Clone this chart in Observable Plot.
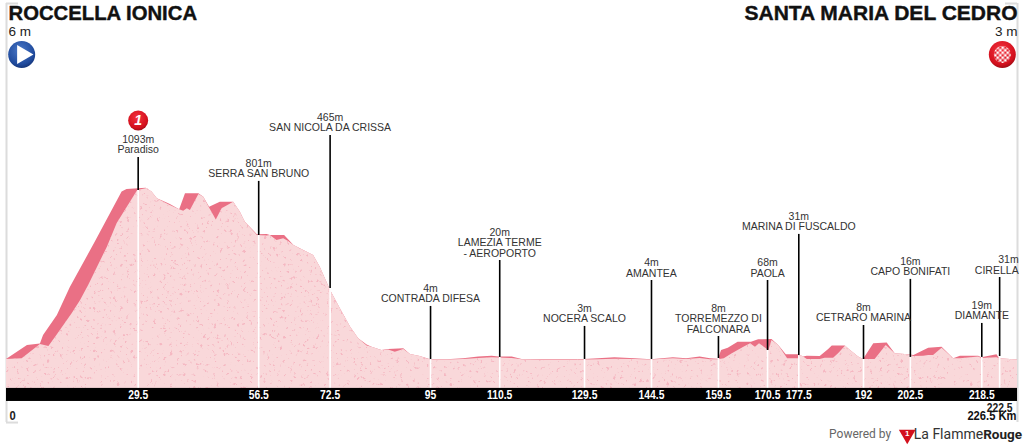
<!DOCTYPE html>
<html><head><meta charset="utf-8">
<script src="https://cdn.jsdelivr.net/npm/d3@7"></script>
<script src="https://cdn.jsdelivr.net/npm/@observablehq/plot@0.6"></script>
<style>html,body{margin:0;padding:0;background:#fff;overflow:hidden}svg{display:block}</style>
</head><body><div id="chart"></div>
<script>
// Upper outline of the profile (dark band on climbs)
const topKm = [0,4.7,7.6,8.3,11.4,14.3,19.9,25.9,27,31.3,32.6,33.8,35.6,36.7,38.8,40.1,43.1,44.2,45.5,47.9,50.9,52.4,53.5,56.2,58.4,59.1,62.3,63.2,64.4,66.6,68.8,70.3,72.6,74.8,77.1,78.9,80.8,81.9,84.1,85.6,89,90.5,92.7,95,98.7,102.4,105.8,108.8,110.3,113.3,115.5,120,129.5,132.6,136.3,140.8,144.5,149.4,152.4,155.4,157.7,159.5,160.2,161.7,163.9,166.9,168.5,171.5,173,174.7,177.5,178.6,179.4,182.3,184.2,185,187.9,189.1,190.9,192,194.3,197.3,199.1,202.1,203.3,206.6,209.6,212.2,213.7,217.8,218.5,221.9,222.5,226.5];
const topElev = [6,95,105,159,286,464,752,1070,1087,1095,1070,1028,1006,991,958,1059,1059,1038,974,1006,1006,942,879,799,801,794,794,767,731,699,667,593,445,328,211,138,98,84,63,70,74,38,25,4,4,10,21,27,21,21,6,6,5,10,17,10,4,17,10,21,10,8,63,78,116,116,131,133,95,36,36,21,27,25,70,91,91,63,21,6,106,110,42,36,31,78,84,10,27,27,17,36,10,3];
// Lower surface (pale body with grain)
const surfKm = [0,3.5,7.6,9.5,11,14.7,16.6,18.4,22.6,24.8,29.4,31.5,32.6,33.8,35.6,36.7,38.8,39.7,40.5,41.2,43.1,44.2,45.3,47,48.3,50.9,52.4,53.5,56.2,58.4,59.1,60.6,62.1,63.2,64.4,66.6,68.8,70.3,72.6,74.8,77.1,78.9,80.8,81.9,84.1,85.6,87.1,89,90.5,92.7,95,98.7,102.4,105.8,108.8,110.3,113.3,115.5,120,129.5,132.6,136.3,140.8,144.5,149.4,152.4,155.4,157.7,159.5,160.8,162.6,165.2,166.7,167.8,168.7,170.8,171.5,173,175,177.5,177.9,178.6,179.4,182.3,183.4,185.3,186.4,188,189.1,190.9,192,194.6,197.1,199.1,202.1,203.3,205.5,206.6,207.7,209.6,212.2,213.7,217.8,218.5,221.9,222.5,226.5];
const surfElev = [6,10,101,89,148,296,381,476,720,871,1080,1093,1070,1028,1000,985,958,949,964,953,1055,1038,978,893,964,1006,942,879,794,791,794,762,773,756,731,699,667,593,445,328,211,138,92,84,63,66,52,70,38,25,2,2,6,12,17,15,12,4,3,3,4,8,6,2,10,6,12,4,4,10,42,84,106,84,106,63,127,95,10,10,31,21,6,6,14,14,42,91,63,21,6,6,95,42,36,25,27,31,31,78,10,10,21,12,17,10,3];

// Places along the route
const stopKm = [29.5,56.5,72.5,95,110.5,129.5,144.5,159.5,170.5,177.5,192,202.5,218.5,222.5];
const stopElev = [1093,801,465,4,20,3,4,8,68,31,8,16,19,31];
const stopName = ["Paradiso","SERRA SAN BRUNO","SAN NICOLA DA CRISSA","CONTRADA DIFESA","LAMEZIA TERME\n- AEROPORTO","NOCERA SCALO","AMANTEA","TORREMEZZO DI\nFALCONARA","PAOLA","MARINA DI FUSCALDO","CETRARO MARINA","CAPO BONIFATI","DIAMANTE","CIRELLA"];
const startName = "ROCCELLA IONICA", finishName = "SANTA MARIA DEL CEDRO";
const startElev = "6 m", finishElev = "3 m";
const totalKm = 226.5;

// Layout in chart units (elevation in m, route in km)
const poleTop = [1290,1138,1430,343,635,216,508,152,508,801,222,515,235,527];
const poleBase = [1080,794,457,6,19,6,6,12,63,31,6,19,19,25];
const floorElev = -178, bandLow = -261, bandMid = -222;
const belowBand = -355, belowBand2 = -305, logoElev = -471, frameTop = 2269, frameBottom = -395;
const iconElev = 1945, kmStart = 3.4, kmEnd = 223.1, footKm = 2.7;

const stops = stopKm.map((km,i)=>({km,elev:stopElev[i],name:stopName[i],top:poleTop[i],base:poleBase[i]}));
const topLine = topKm.map((km,i)=>({km,elev:topElev[i]}));
const surface = surfKm.map((km,i)=>({km,elev:surfElev[i]}));
const bandFont = "'Liberation Sans',Arial,sans-serif";
const labelFont = "'Liberation Sans',Arial,sans-serif";
const creditFont = "Roboto,sans-serif";

const defs = () => {
  const s = d3.create("svg:defs");
  s.html(`
  <filter id="grain" x="0" y="0" width="1" height="1" color-interpolation-filters="sRGB">
    <feTurbulence type="fractalNoise" baseFrequency="0.3" numOctaves="3" seed="7" result="n"/>
    <feColorMatrix in="n" type="matrix" values="0 0 0 0 0.96  0 0 0 0 0.72  0 0 0 0 0.76  9 0 0 0 -5.8" result="sp"/>
    <feComposite in="sp" in2="SourceAlpha" operator="in" result="spk"/>
    <feMerge><feMergeNode in="SourceGraphic"/><feMergeNode in="spk"/></feMerge>
  </filter>
  <radialGradient id="blue" cx="45%" cy="35%" r="70%"><stop offset="0" stop-color="#4a78c8"/><stop offset="0.75" stop-color="#1f4a9c"/><stop offset="1" stop-color="#122f6e"/></radialGradient>
  <radialGradient id="red" cx="45%" cy="35%" r="70%"><stop offset="0" stop-color="#f5333f"/><stop offset="0.75" stop-color="#d3101d"/><stop offset="1" stop-color="#8e0a12"/></radialGradient>
  <pattern id="check" width="5" height="5" patternUnits="userSpaceOnUse" x="1" y="1"><rect width="2.5" height="2.5" fill="#fff"/><rect x="2.5" y="2.5" width="2.5" height="2.5" fill="#fff"/></pattern>`);
  return s.node();
};

const chart = Plot.plot({
  width: 1024, height: 448,
  marginLeft: 6, marginRight: 7, marginTop: 0, marginBottom: 0,
  x: {domain: [0, totalKm], axis: null},
  y: {domain: [-560, 2288], axis: null},
  style: {background: "#fff", fontFamily: labelFont},
  marks: [
    defs,
    // frame brackets
    Plot.ruleX([0,totalKm], {y1: frameTop, y2: frameBottom, stroke: "#dcdcdc", strokeWidth: 2}),
    Plot.ruleY([frameTop], {x1: 0, x2: footKm, stroke: "#dcdcdc", strokeWidth: 2}),
    Plot.ruleY([frameTop], {x1: totalKm-footKm, x2: totalKm, stroke: "#dcdcdc", strokeWidth: 2}),
    Plot.ruleY([frameBottom], {x1: 0, x2: footKm, stroke: "#dcdcdc", strokeWidth: 2}),
    // profile
    Plot.areaY(topLine, {x: "km", y1: floorElev, y2: "elev", fill: "#ea7085"}),
    Plot.areaY(surface, {x: "km", y1: floorElev, y2: "elev", fill: "#f9d8da"}),
    // white stems below the poles, black poles above
    Plot.ruleX(stops, {x: "km", y1: floorElev, y2: "base", stroke: "#fff", strokeWidth: 1.6}),
    Plot.ruleX(stops, {x: "km", y1: "base", y2: "top", stroke: "#000", strokeWidth: 1.6}),
    // km band
    Plot.rectY([0], {x1: 0, x2: totalKm, y1: bandLow, y2: floorElev, fill: "#000"}),
    Plot.text(stops.filter(d=>d.km!==222.5), {x: "km", y: bandMid, text: d=>String(d.km), fill: "#fff", fontFamily: bandFont, fontWeight: "bold", fontSize: 12}),
    Plot.text(stops.filter(d=>d.km===222.5), {x: "km", y: belowBand2, text: d=>String(d.km), fill: "#222", fontFamily: bandFont, fontWeight: "bold", fontSize: 12}),
    Plot.text(["0"], {x: 0, y: belowBand, dx: 3, textAnchor: "start", fill: "#222", fontFamily: bandFont, fontWeight: "bold", fontSize: 13}),
    Plot.text([`${totalKm} Km`], {x: totalKm, y: belowBand, dx: -1, textAnchor: "end", fill: "#111", fontFamily: bandFont, fontWeight: "bold", fontSize: 13}),
    // place labels
    Plot.text(stops.filter(d=>d.km!==222.5), {x: "km", y: "top", dy: -4, text: d=>`${d.elev}m\n${d.name}`, lineAnchor: "bottom", lineHeight: 0.98, fill: "#333", fontFamily: labelFont, fontSize: 10.5}),
    Plot.text(stops.filter(d=>d.km===222.5), {x: "km", y: "top", dx: 19, dy: -4, text: d=>`${d.elev}m\n${d.name}`, textAnchor: "end", lineAnchor: "bottom", lineHeight: 0.98, fill: "#333", fontFamily: labelFont, fontSize: 10.5}),
    // climb badge
    Plot.dot([29.5], {x: d=>d, y: 1525, r: 10, fill: "url(#red)"}),
    Plot.text(["1"], {x: 29.5, y: 1525, fill: "#fff", fontFamily: labelFont, fontWeight: "bold", fontStyle: "italic", fontSize: 14}),
    // start and finish
    Plot.text([startName], {frameAnchor: "top-left", dx: 2, dy: 5, fill: "#111", fontFamily: labelFont, fontWeight: "bold", fontSize: 20.3, stroke: "#111", strokeWidth: 0.4}),
    Plot.text([finishName], {frameAnchor: "top-right", dx: 0, dy: 5, fill: "#111", fontFamily: labelFont, fontWeight: "bold", fontSize: 21, stroke: "#111", strokeWidth: 0.4}),
    Plot.text([startElev], {frameAnchor: "top-left", dx: 2, dy: 26, fill: "#222", fontFamily: labelFont, fontSize: 13.5}),
    Plot.text([finishElev], {frameAnchor: "top-right", dx: 0, dy: 26, fill: "#222", fontFamily: labelFont, fontSize: 13.5}),
    Plot.dot([kmStart], {x: d=>d, y: iconElev, r: 13.5, fill: "url(#blue)"}),
    Plot.dot([kmStart], {x: d=>d+0.2, y: iconElev, symbol: "triangle", r: 7, rotate: 90, fill: "#fff"}),
    Plot.dot([kmEnd], {x: d=>d, y: iconElev, r: 13.5, fill: "url(#red)"}),
    Plot.dot([kmEnd], {x: d=>d, y: iconElev, r: 8.5, fill: "url(#check)"}),
    // credit
    Plot.text(["Powered by"], {x: 198.2, y: logoElev, textAnchor: "end", fill: "#666", fontFamily: creditFont, fontSize: 12}),
    Plot.dot([201.8], {x: d=>d, y: logoElev, symbol: "triangle2", r: 8, rotate: 180, fill: "#d3101d"}),
    Plot.text(["1"], {x: 201.8, y: logoElev, dy: -1, fill: "#fff", fontFamily: labelFont, fontWeight: "bold", fontSize: 8}),
    Plot.text(["La Flamme"], {x: 218.8, y: logoElev, textAnchor: "end", fill: "#333", fontFamily: creditFont, fontSize: 14}),
    Plot.text(["Rouge"], {x: 218.8, y: logoElev, textAnchor: "start", fill: "#222", fontFamily: creditFont, fontWeight: "bold", fontSize: 13.5})
  ]
});
document.getElementById("chart").append(chart);
const root = d3.select(chart);
root.selectAll("*").filter(function(){ return this.getAttribute("fill")==="#f9d8da"; }).attr("filter","url(#grain)");
// condense the kilometre figures in and under the black band
root.selectAll('g[aria-label="text"]').each(function(){
  const g = d3.select(this);
  if (g.attr("font-weight")!=="bold" || g.attr("font-family")!==bandFont) return;
  const fs = g.attr("font-size");
  if (fs !== "12" && fs !== "13") return;
  g.selectAll("text").each(function(){
    this.setAttribute("lengthAdjust","spacingAndGlyphs");
    this.setAttribute("textLength", this.getComputedTextLength()*0.86);
  });
});
</script></body></html>
